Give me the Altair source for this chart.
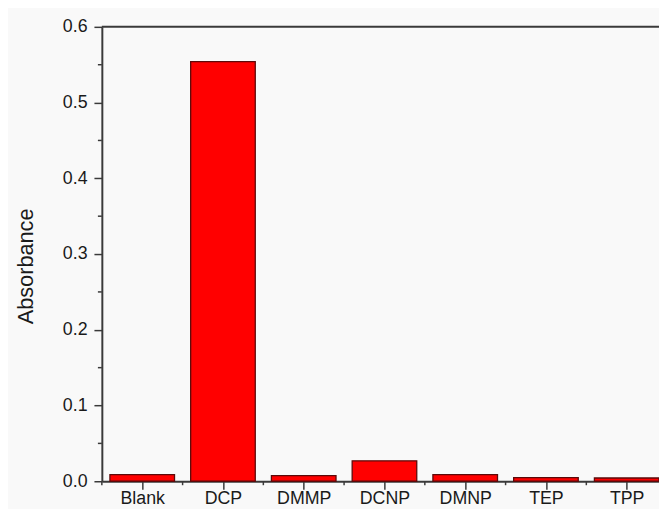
import altair as alt
import pandas as pd

categories = ["Blank", "DCP", "DMMP", "DCNP", "DMNP", "TEP", "TPP"]
absorbance = [0.0087, 0.554, 0.0074, 0.027, 0.0087, 0.0048, 0.0043]
y_ticks = [0.0, 0.1, 0.2, 0.3, 0.4, 0.5, 0.6]
y_minor = [0.05, 0.15, 0.25, 0.35, 0.45, 0.55]
x_minor = [-0.5, 0.5, 1.5, 2.5, 3.5, 4.5, 5.5]

df = pd.DataFrame({"idx": list(range(len(categories))), "cat": categories, "val": absorbance})

W, H = 564, 460
AX = "#3a3a3a"
TXT = "#1a1a1a"
FONT = "Liberation Sans"

xscale = alt.Scale(domain=[-0.5, 6.4], nice=False, zero=False)
yscale = alt.Scale(domain=[0, 0.6], nice=False, zero=True)

label_expr = "[" + ",".join(f"'{c}'" for c in categories) + "][datum.value]"

xaxis = alt.Axis(values=list(range(len(categories))), labelExpr=label_expr,
                 title=None, grid=False, labelPadding=1, labelFlush=False,
                 labelOverlap=False)
yaxis = alt.Axis(values=y_ticks, format=".1f", title="Absorbance", grid=False,
                 labelPadding=7, titleX=-77, titleY=242, titleAngle=270,
                 titleAlign="center", titleBaseline="middle",
                 titleFontSize=22, titleFontWeight="normal", titleColor=TXT,
                 titleFont=FONT, labelFlush=False)

bars = alt.Chart(df).transform_calculate(
    x0="datum.idx - 0.4", x1="datum.idx + 0.4"
).mark_bar(color="#ff0000", stroke="#5c0a0a", strokeWidth=1.3).encode(
    x=alt.X("x0:Q", scale=xscale, axis=xaxis),
    x2="x1:Q",
    y=alt.Y("val:Q", scale=yscale, axis=yaxis),
    y2=alt.datum(0),
)

xminor = alt.Chart(pd.DataFrame({"m": x_minor})).mark_rule(color=AX, strokeWidth=1.5).encode(
    x=alt.X("m:Q", scale=xscale, axis=xaxis),
    y=alt.value(H),
    y2=alt.value(H + 4),
)

yminor = alt.Chart(pd.DataFrame({"m": y_minor})).mark_rule(color=AX, strokeWidth=1.5).encode(
    y=alt.Y("m:Q", scale=yscale, axis=yaxis),
    x=alt.value(-4),
    x2=alt.value(0),
)

topline = alt.Chart(pd.DataFrame({"t": [0.6]})).mark_rule(color=AX, strokeWidth=2).encode(
    y=alt.Y("t:Q", scale=yscale, axis=yaxis),
    x=alt.value(0),
    x2=alt.value(W),
)

chart = alt.layer(bars, xminor, yminor, topline).properties(
    width=W, height=H,
    autosize=alt.AutoSizeParams(type="none"),
    padding={"left": 95, "top": 16, "right": 0, "bottom": 25},
    background="#f9f9f9",
).configure_view(stroke=None).configure_axis(
    domainColor=AX, domainWidth=2, tickColor=AX, tickWidth=1.5, tickSize=8,
    labelFontSize=18, labelColor=TXT, labelFont=FONT,
)

chart.save("out.html", embed_options={"renderer": "svg", "actions": False})
